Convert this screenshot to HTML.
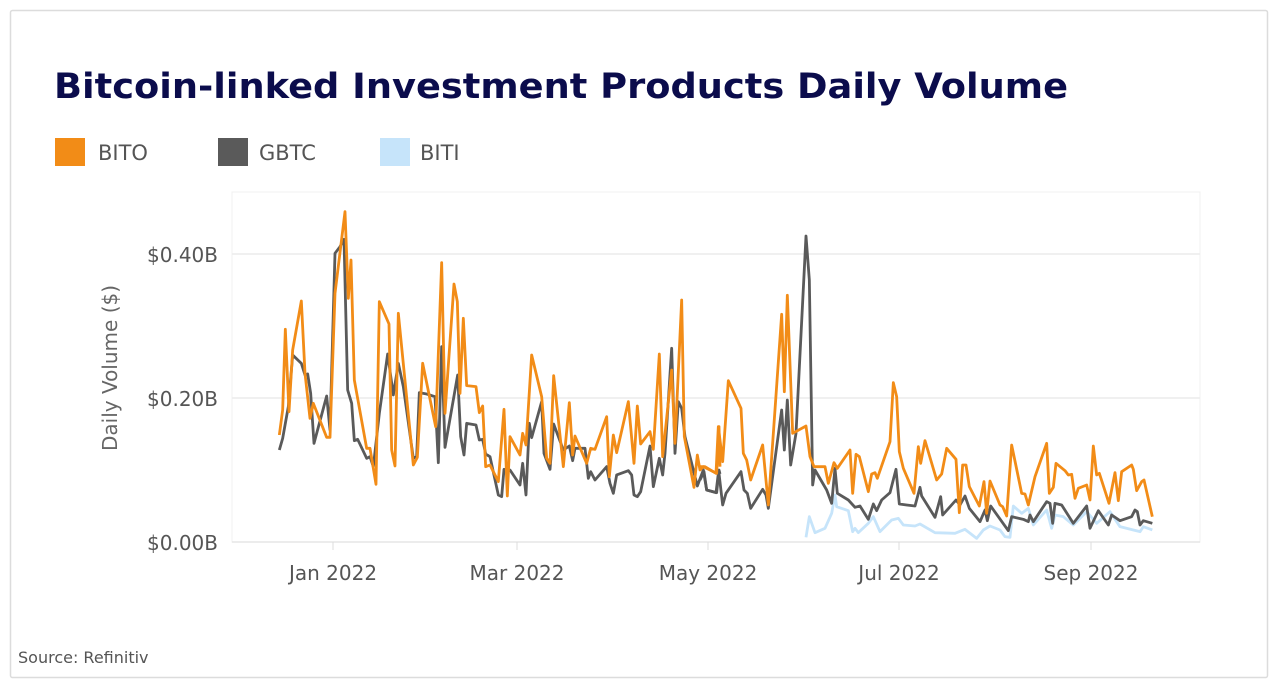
<!DOCTYPE html>
<html><head><meta charset="utf-8"><style>
body{margin:0;background:#fff;}
svg{display:block;font-family:"DejaVu Sans","Liberation Sans",sans-serif;}
</style></head><body>
<svg width="1278" height="688" viewBox="0 0 1278 688">
<rect x="10.5" y="10.5" width="1257" height="667" fill="#fff" stroke="#dcdcdc" stroke-width="1.5" rx="2"/>
<text x="54" y="98" font-size="35" font-weight="bold" fill="#0b0c4c" textLength="1014" lengthAdjust="spacingAndGlyphs">Bitcoin-linked Investment Products Daily Volume</text>
<rect x="55" y="138" width="30" height="28" fill="#f28c17"/>
<text x="98" y="160" font-size="21" fill="#555">BITO</text>
<rect x="218" y="138" width="30" height="28" fill="#5a5a5a"/>
<text x="259" y="160" font-size="21" fill="#555">GBTC</text>
<rect x="380" y="138" width="30" height="28" fill="#c6e4fa"/>
<text x="420" y="160" font-size="21" fill="#555">BITI</text>
<rect x="232" y="192" width="968" height="350" fill="none" stroke="#f0f0f0"/>
<line x1="232" y1="254" x2="1200" y2="254" stroke="#ececec" stroke-width="1.5"/>
<line x1="232" y1="398" x2="1200" y2="398" stroke="#ececec" stroke-width="1.5"/>
<line x1="232" y1="542" x2="1200" y2="542" stroke="#e6e6e6" stroke-width="1.5"/>
<g stroke="#ddd" stroke-width="1">
<line x1="333" y1="542" x2="333" y2="550"/><line x1="517" y1="542" x2="517" y2="550"/><line x1="708" y1="542" x2="708" y2="550"/><line x1="899" y1="542" x2="899" y2="550"/><line x1="1091" y1="542" x2="1091" y2="550"/>
</g>
<g font-size="20" fill="#555" text-anchor="end">
<text x="218" y="262">$0.40B</text><text x="218" y="406">$0.20B</text><text x="218" y="550">$0.00B</text>
</g>
<text transform="translate(117,368) rotate(-90)" font-size="20" fill="#666" text-anchor="middle">Daily Volume ($)</text>
<g font-size="20" fill="#555" text-anchor="middle">
<text x="333" y="580">Jan 2022</text><text x="517" y="580">Mar 2022</text><text x="708" y="580">May 2022</text><text x="899" y="580">Jul 2022</text><text x="1091" y="580">Sep 2022</text>
</g>
<text x="18" y="663" font-size="16" fill="#555">Source: Refinitiv</text>

<g transform="translate(700,200) scale(0.33333)" fill="none" stroke-linejoin="round">
<polyline vector-effect="non-scaling-stroke" stroke="#c6e4fa" stroke-width="2.8" points="318,1012 328,950 345,998 375,985 395,940 405,885 410,920 445,932 458,995 465,985 475,998 505,970 520,950 540,995 575,960 595,955 610,975 645,978 660,972 705,998 765,1000 795,988 830,1015 850,990 870,978 900,990 915,1010 930,1012 940,918 965,940 985,925 1000,975 1040,930 1055,985 1065,945 1090,950 1120,975 1160,935 1190,970 1230,935 1260,980 1300,990 1320,995 1330,980 1357,990"/>
</g>
<g transform="translate(270,200) scale(0.33333)" fill="none" stroke-linejoin="round">
<polyline vector-effect="non-scaling-stroke" stroke="#5a5a5a" stroke-width="2.8" points="28,750 38,715 55,620 68,465 94,490 105,525 113,522 122,580 132,730 170,588 180,690 195,160 210,140 222,118 233,570 245,610 253,722 263,718 290,775 300,770 310,800 328,640 353,462 370,585 385,490 400,560 430,775 440,770 448,578 470,582 495,590 505,788 515,440 525,742 563,525 572,710 582,765 590,670 618,675 628,720 638,718 647,762 660,770 685,885 695,890 702,808 720,810 750,855 758,790 768,885 778,670 785,713 815,605 822,760 840,808 851,672 880,750 898,738 908,782 915,745 945,745 955,835 962,815 975,840 1010,800 1020,850 1030,880 1040,825 1075,812 1085,825 1092,885 1102,890 1112,875 1140,738 1150,860 1168,775 1178,825 1185,760 1205,445 1215,760 1225,605 1235,625 1245,710 1282,858 1300,810 1310,870 1340,878 1347,810 1350,822"/>
</g>
<g transform="translate(700,200) scale(0.33333)" fill="none" stroke-linejoin="round">
<polyline vector-effect="non-scaling-stroke" stroke="#5a5a5a" stroke-width="2.8" points="0,840 12,815 20,870 48,878 56,812 68,915 78,880 123,815 132,870 142,880 152,925 188,868 198,885 205,925 245,630 253,750 262,600 272,795 288,700 318,108 328,240 338,855 345,810 380,870 395,910 405,805 412,880 445,900 465,922 480,918 505,958 520,912 530,932 545,900 570,878 588,808 598,912 620,915 645,918 660,862 665,888 705,952 722,890 728,945 768,900 780,915 795,888 808,925 840,965 855,930 862,962 872,918 925,992 935,950 970,958 985,965 990,945 1000,965 1040,905 1050,910 1058,970 1065,910 1085,915 1120,970 1160,918 1170,985 1195,932 1225,975 1235,945 1260,962 1295,950 1305,930 1312,935 1320,975 1330,962 1357,970"/>
</g>
<g transform="translate(270,200) scale(0.33333)" fill="none" stroke-linejoin="round">
<polyline vector-effect="non-scaling-stroke" stroke="#f28c17" stroke-width="2.8" points="28,705 38,630 46,388 57,635 68,450 94,303 105,520 120,655 130,610 170,712 180,712 195,280 225,35 235,295 243,180 253,540 290,745 300,745 318,853 328,305 357,372 365,750 375,798 385,340 430,795 442,772 458,490 497,680 515,188 525,640 552,252 562,305 570,580 580,355 590,557 618,560 628,638 638,618 647,800 660,795 685,845 702,628 712,888 720,710 750,765 758,700 768,735 785,465 815,590 830,775 840,790 851,527 880,800 898,608 908,765 915,708 950,790 962,745 975,748 1010,650 1018,830 1030,705 1040,758 1075,605 1092,790 1102,618 1112,732 1140,695 1150,748 1168,462 1178,770 1205,510 1215,730 1235,300 1243,710 1272,862 1282,765 1290,810 1300,800 1340,820 1347,680 1350,800"/>
</g>
<g transform="translate(700,200) scale(0.33333)" fill="none" stroke-linejoin="round">
<polyline vector-effect="non-scaling-stroke" stroke="#f28c17" stroke-width="2.8" points="0,800 15,800 48,820 55,680 68,785 85,542 123,625 130,760 140,780 152,840 188,735 205,915 245,343 253,575 262,286 278,700 318,678 330,770 342,800 375,800 385,850 402,788 412,805 450,750 458,880 468,763 478,770 505,875 515,822 525,818 532,835 570,725 580,548 590,590 598,755 610,805 642,880 655,740 662,790 675,722 710,840 725,822 740,745 768,778 778,938 788,795 798,795 808,860 838,918 852,845 860,940 870,843 900,915 908,920 920,948 935,735 965,880 975,882 985,915 1005,830 1040,730 1048,880 1060,862 1068,790 1095,812 1105,825 1115,823 1125,895 1135,865 1160,855 1170,900 1180,738 1190,825 1198,820 1227,910 1245,818 1255,902 1265,815 1295,795 1300,808 1310,872 1325,845 1332,840 1357,950"/>
</g>
</svg>
</body></html>
